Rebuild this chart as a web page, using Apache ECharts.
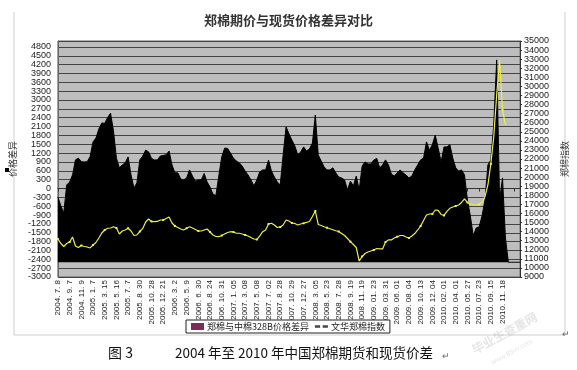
<!DOCTYPE html>
<html><head><meta charset="utf-8">
<script src="https://cdn.jsdelivr.net/npm/echarts@6/dist/echarts.min.js"></script>
<style>html,body{margin:0;padding:0;background:#fff;}#c{width:577px;height:370px;}</style>
</head><body><div id="c"></div>
<script>
// tick labels of the category axis (one every 4 samples)
const dateLabels = ['2004. 7. 8','2004. 9. 7','2004. 11. 9','2005. 1. 7','2005. 3. 15','2005. 5. 16','2005. 7. 7','2005. 8. 30','2005. 10. 28','2005. 12. 21','2006. 3. 2','2006. 5. 9','2006. 6. 30','2006. 8. 24','2006. 10. 31','2007. 1. 05','2007. 3. 08','2007. 5. 08','2007. 7. 02','2007. 8. 28','2007. 10. 29','2007. 12. 27','2008. 3. 05','2008. 5. 23','2008. 7. 28','2008. 9. 19','2008. 11. 19','2009. 01. 23','2009. 03. 31','2009. 06. 01','2009. 08. 04','2009. 10. 13','2009. 12. 04','2010. 02. 01','2010. 04. 01','2010. 05. 27','2010. 07. 23','2010. 09. 15','2010. 11. 18'];
const samplesPerLabel = 4;
const totalSamples = 159;

// 郑棉与中棉328B价格差异 (left axis)
const spread = [
-290,-590,-830,120,220,460,970,1030,910,900,
910,1080,1580,1710,2020,2220,2210,2410,2550,1950,
1030,700,800,870,1070,460,20,190,970,1100,
1300,1240,1020,970,970,1100,1120,1140,1270,800,
530,530,320,290,360,630,420,250,290,290,
510,220,50,-190,-240,420,1070,1370,1360,1200,
1030,930,870,760,590,460,290,90,290,560,
630,630,960,590,390,220,120,1140,2090,1850,
1640,1440,1140,1240,1410,1270,1340,1540,2490,1140,
930,730,630,630,700,530,390,360,290,-50,
250,90,420,-50,760,900,830,830,970,1020,
700,800,970,800,490,420,530,630,530,460,
360,420,630,800,970,1030,1580,1300,1480,1810,
1370,900,1410,1410,1480,1030,700,590,630,460,
-390,-930,-1610,-1340,-1300,-930,-390,800,970,2150,
4360,-390,360,-1680,-2500,-2500,-2500,-2500,-2500
];

// 文华郑棉指数 (right axis)
const cottonIndex = [
13190,12690,12360,12690,12860,13410,12420,12250,12470,12360,
12310,12200,12530,12800,13300,13850,14180,14370,14400,14540,
14400,13740,14070,14180,14370,14070,13570,13630,14010,14350,
15060,15390,15120,15090,15120,15280,15280,15450,15610,14950,
14620,14460,14290,14180,14370,14540,14400,14240,14070,14070,
14180,14290,13960,13630,13460,13440,13570,13740,13900,13990,
13960,13820,13820,13740,13630,13520,13350,13190,13130,13520,
13990,14180,14840,14920,14730,14460,14510,14730,15280,15170,
14950,14900,14730,14840,14920,15010,15120,15670,16270,14790,
14680,14540,14430,14320,14210,14100,14010,13790,13570,13240,
12890,12580,12250,10760,11260,11590,11760,11870,11980,12140,
12090,12090,12860,13080,13080,13300,13440,13570,13570,13410,
13300,13520,13790,14180,14620,15230,15830,15940,15940,16380,
16330,15890,15780,16220,16570,16710,16820,16930,17210,17600,
17210,17050,16930,16930,16990,17210,17870,19140,21450,24430,
29060,32910,27400,25750,null,null,null,null,null
];

const categories = [];
for (let i = 0; i < totalSamples; i++) {
  const k = i / samplesPerLabel;
  categories.push(i % samplesPerLabel === 0 && k < dateLabels.length ? dateLabels[k] : '');
}

const chart = echarts.init(document.getElementById('c'), null, {renderer: 'canvas'});
const axisFont = {fontFamily: 'Liberation Sans, Arial, sans-serif', fontSize: 9, color: '#222'};
const plain = v => String(v);
chart.setOption({
  animation: false,
  backgroundColor: '#fff',
  title: {
    text: '郑棉期价与现货价格差异对比', left: 'center', top: 9,
    textStyle: {fontFamily: 'Noto Sans CJK SC', fontSize: 13, fontWeight: 'bold', color: '#333'}
  },
  legend: {
    left: 186, top: 320, width: 320, itemGap: 6, itemWidth: 13, itemHeight: 7,
    padding: [2, 5, 2, 5], borderColor: '#222', borderWidth: 1, backgroundColor: '#fff',
    textStyle: {fontFamily: 'Noto Sans CJK SC', fontSize: 9, color: '#222', padding: [0, 0, 0, -2]},
    data: [
      {name: '郑棉与中棉328B价格差异', icon: 'rect', itemStyle: {color: '#7b2d55'}},
      {name: '文华郑棉指数', icon: 'path://M0,4 L4,4 L4,6 L0,6 Z M6,4 L10,4 L10,6 L6,6 Z', itemStyle: {color: '#444'}, lineStyle: {opacity: 0}}
    ]
  },
  grid: {left: 56, right: 56, top: 41, bottom: 93, show: true, backgroundColor: '#bdbdbd', borderColor: '#666', borderWidth: 1},
  xAxis: {
    type: 'category', data: categories, boundaryGap: false,
    axisLine: {lineStyle: {color: '#333'}},
    axisTick: {interval: samplesPerLabel - 1, length: 3, lineStyle: {color: '#333'}},
    axisLabel: Object.assign({interval: samplesPerLabel - 1, rotate: 90, margin: 3}, axisFont, {fontSize: 8})
  },
  yAxis: [
    {
      type: 'value', min: -3000, max: 5000, interval: 300,
      name: '价格差异', nameLocation: 'middle', nameRotate: 90, nameGap: 34,
      nameTextStyle: {fontFamily: 'Noto Sans CJK SC', fontSize: 9, color: '#333'},
      axisLine: {show: true, lineStyle: {color: '#666'}}, axisTick: {show: false},
      axisLabel: Object.assign({margin: 7, showMaxLabel: false, formatter: plain}, axisFont),
      splitLine: {show: true, lineStyle: {color: '#444', width: 1}}
    },
    {
      type: 'value', min: 9000, max: 35000, interval: 1000, position: 'right',
      name: '郑棉指数', nameLocation: 'middle', nameRotate: 90, nameGap: 33,
      nameTextStyle: {fontFamily: 'Noto Sans CJK SC', fontSize: 9, color: '#333'},
      axisLine: {show: true, lineStyle: {color: '#333'}},
      axisTick: {show: true, length: 2, lineStyle: {color: '#333'}},
      axisLabel: Object.assign({margin: 4, formatter: plain}, axisFont),
      splitLine: {show: false}
    }
  ],
  series: [
    {
      name: '郑棉与中棉328B价格差异', type: 'line', yAxisIndex: 0, data: spread,
      symbol: 'none',
      lineStyle: {color: '#000', width: 1},
      areaStyle: {color: '#000', opacity: 1, origin: -2500},
      z: 2
    },
    {
      name: '文华郑棉指数', type: 'line', yAxisIndex: 1, data: cottonIndex,
      symbol: 'rect', symbolSize: 2, showSymbol: true,
      itemStyle: {color: '#f4f24a'},
      lineStyle: {color: '#eeee44', width: 1.2},
      z: 3
    }
  ],
  graphic: [
    {type: 'line', shape: {x1: 14, y1: 12, x2: 14, y2: 335}, style: {stroke: '#cfcfcf', lineWidth: 1}},
    {type: 'line', shape: {x1: 565, y1: 12, x2: 565, y2: 335}, style: {stroke: '#cfcfcf', lineWidth: 1}},
    {type: 'line', shape: {x1: 14, y1: 335, x2: 565, y2: 335}, style: {stroke: '#cfcfcf', lineWidth: 1}},
    {type: 'rect', shape: {x: 5, y: 168, width: 4, height: 4}, style: {fill: '#000'}},
    {type: 'text', left: 108, top: 346, style: {text: '图 3', font: '14px "Noto Sans CJK SC"', fill: '#111'}},
    {type: 'text', left: 175, top: 346, style: {text: '2004 年至 2010 年中国郑棉期货和现货价差', font: '13.5px "Noto Sans CJK SC"', fill: '#111'}},
    {type: 'text', left: 442, top: 352, style: {text: '↵', font: '9px sans-serif', fill: '#666'}},
    {type: 'text', left: 562, top: 330, style: {text: '↵', font: '9px sans-serif', fill: '#666'}},
    {type: 'text', x: 470, y: 345, rotation: 0.5, style: {text: '毕业生查重网', font: 'bold 12px "Noto Sans CJK SC"', fill: 'rgba(180,180,180,0.35)'}},
    {type: 'text', x: 490, y: 360, rotation: 0.5, style: {text: 'www.85vv.com', font: '7px sans-serif', fill: 'rgba(180,180,180,0.35)'}}
  ]
});
</script>
</body></html>
